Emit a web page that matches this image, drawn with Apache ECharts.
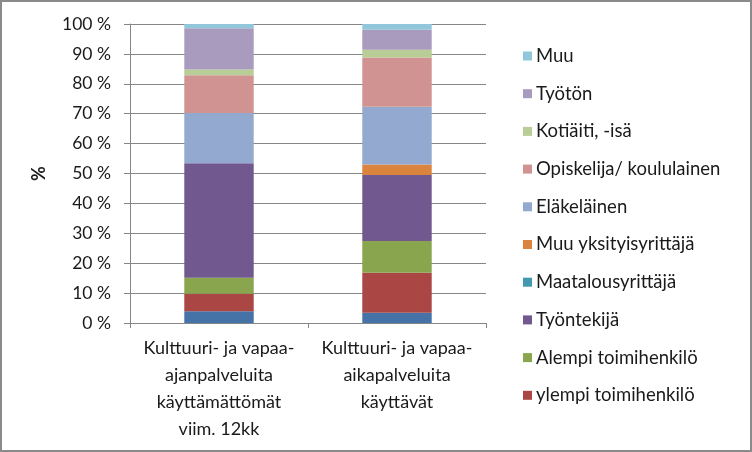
<!DOCTYPE html>
<html>
<head>
<meta charset="utf-8">
<script src="https://cdn.jsdelivr.net/npm/echarts@6/dist/echarts.min.js"></script>
<style>
html,body{margin:0;padding:0;background:#fff;}
#c{width:752px;height:452px;box-sizing:border-box;border:2px solid #8a8a8a;}
</style>
</head>
<body>
<div id="c"></div>
<script>
const categories = [
  "Kulttuuri- ja vapaa-\najanpalveluita\nkäyttämättömät\nviim. 12kk",
  "Kulttuuri- ja vapaa-\naikapalveluita\nkäyttävät"
];
const yTickLabels = ["0 %","10 %","20 %","30 %","40 %","50 %","60 %","70 %","80 %","90 %","100 %"];
// series, bottom to top
const seriesNames = [
  "Johtava asema",
  "ylempi toimihenkilö",
  "Alempi toimihenkilö",
  "Työntekijä",
  "Maatalousyrittäjä",
  "Muu yksityisyrittäjä",
  "Eläkeläinen",
  "Opiskelija/ koululainen",
  "Kotiäiti, -isä",
  "Työtön",
  "Muu"
];
const johtava      = [3.9, 3.4];
const ylempi       = [5.9, 13.4];
const alempi       = [5.3, 10.6];
const tyontekija   = [38.3, 22.1];
const maatalous    = [0.0, 0.0];
const muuYksityis  = [0.0, 3.5];
const elakelainen  = [16.8, 19.3];
const opiskelija   = [12.7, 16.5];
const kotiaiti     = [1.9, 2.6];
const tyoton       = [13.8, 6.7];
const muu          = [1.5, 2.0];
const seriesValues = [johtava, ylempi, alempi, tyontekija, maatalous, muuYksityis, elakelainen, opiskelija, kotiaiti, tyoton, muu];
const colors = ["#4572A7","#AA4643","#89A54E","#71588F","#4198AF","#DB843D","#93A9CF","#D19392","#B9CD96","#A99BBD","#92C6DA"];

const chart = echarts.init(document.getElementById('c'));
const font = 'Lato, "Open Sans", sans-serif';
chart.setOption({
  animation: false,
  textStyle: {fontFamily: font},
  grid: {left: 128, right: 264, top: 22, bottom: 127, containLabel: false},
  legend: {
    orient: 'vertical',
    left: 516,
    top: 39,
    itemWidth: 9,
    itemHeight: 9,
    itemGap: 17.7,
    icon: 'rect',
    data: seriesNames.slice(1).reverse(),
    textStyle: {fontSize: 18.5, lineHeight: 20, color: '#1a1a1a', fontFamily: font, padding: [0,0,0,-1]}
  },
  xAxis: {
    type: 'category',
    data: categories,
    axisLine: {lineStyle: {color: '#868686'}},
    axisTick: {show: true, length: 5, lineStyle: {color: '#868686'}},
    axisLabel: {fontSize: 18, color: '#1a1a1a', lineHeight: 27, margin: 12, interval: 0, fontFamily: font}
  },
  yAxis: {
    type: 'value',
    min: 0, max: 100, interval: 10,
    name: '%',
    nameLocation: 'middle',
    nameGap: 82,
    nameRotate: 90,
    nameTextStyle: {fontSize: 18, fontWeight: 'bold', color: '#1a1a1a', fontFamily: font},
    axisLine: {show: true, lineStyle: {color: '#868686'}},
    axisTick: {show: true, length: 6, lineStyle: {color: '#868686'}},
    splitLine: {lineStyle: {color: '#868686'}},
    axisLabel: {fontSize: 17.5, color: '#1a1a1a', margin: 19, fontFamily: font,
      formatter: function(v){ return yTickLabels[Math.round(v/10)]; }}
  },
  series: seriesNames.map((n, i) => ({
    name: n,
    type: 'bar',
    stack: 'total',
    barWidth: '39%',
    data: seriesValues[i],
    itemStyle: {color: colors[i]}
  }))
});
</script>
</body>
</html>
